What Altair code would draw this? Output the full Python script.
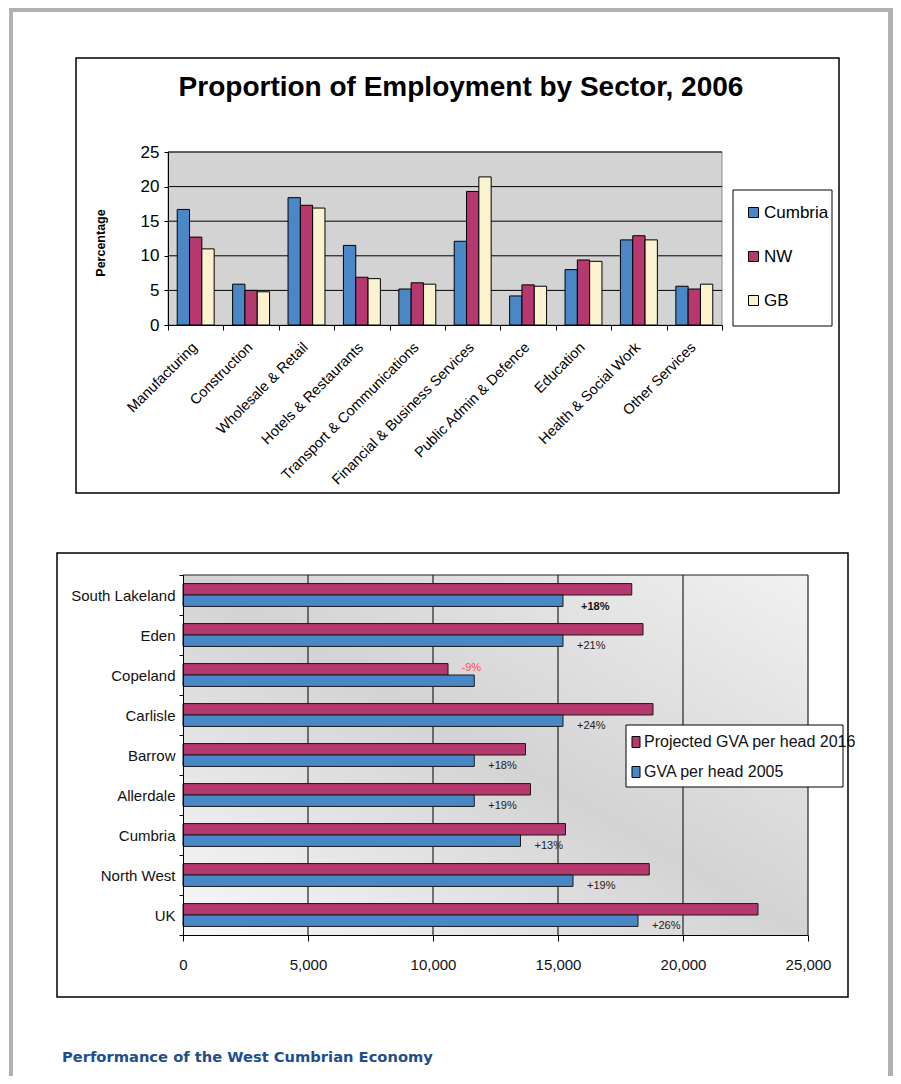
import altair as alt
import pandas as pd

# ---------------- data ----------------
sectors = ["Manufacturing", "Construction", "Wholesale & Retail", "Hotels & Restaurants",
           "Transport & Communications", "Financial & Business Services",
           "Public Admin & Defence", "Education", "Health & Social Work", "Other Services"]
series1 = ["Cumbria", "NW", "GB"]
cumbria = [16.7, 5.9, 18.4, 11.5, 5.2, 12.1, 4.2, 8.0, 12.3, 5.6]
nw = [12.7, 5.0, 17.3, 6.9, 6.1, 19.3, 5.8, 9.4, 12.9, 5.2]
gb = [11.0, 4.8, 16.9, 6.7, 5.9, 21.4, 5.6, 9.2, 12.3, 5.9]
y1_ticks = [0, 5, 10, 15, 20, 25]

regions = ["South Lakeland", "Eden", "Copeland", "Carlisle", "Barrow", "Allerdale",
           "Cumbria", "North West", "UK"]
series2 = ["Projected GVA per head 2016", "GVA per head 2005"]
gva_2016 = [17950, 18400, 10600, 18800, 13700, 13900, 15300, 18650, 23000]
gva_2005 = [15200, 15200, 11650, 15200, 11650, 11650, 13500, 15600, 18200]
change_labels = ["+18%", "+21%", "-9%", "+24%", "+18%", "+19%", "+13%", "+19%", "+26%"]
x2_ticks = [0, 5000, 10000, 15000, 20000, 25000]

title1 = "Proportion of Employment by Sector, 2006"
ytitle1 = "Percentage"
footer = "Performance of the West Cumbrian Economy"

# ---------------- tables ----------------
df1 = pd.DataFrame(
    [{"sector": s, "series": "Cumbria", "value": v} for s, v in zip(sectors, cumbria)]
    + [{"sector": s, "series": "NW", "value": v} for s, v in zip(sectors, nw)]
    + [{"sector": s, "series": "GB", "value": v} for s, v in zip(sectors, gb)]
)
df2 = pd.DataFrame(
    [{"region": r, "series": series2[0], "value": v} for r, v in zip(regions, gva_2016)]
    + [{"region": r, "series": series2[1], "value": v} for r, v in zip(regions, gva_2005)]
)
lab2 = pd.DataFrame({"region": regions, "v2005": gva_2005, "v2016": gva_2016,
                     "label": change_labels})

W, H = 885, 1068
FONT = "Liberation Sans"
BLUE, MAG, CREAM = "#4a87c7", "#b5386f", "#fbf3cf"
one = alt.Data(values=[{}])


def rect(x, x2, y, y2, **kw):
    return alt.Chart(one).mark_rect(**kw).encode(
        x=alt.value(x), x2=alt.value(x2), y=alt.value(y), y2=alt.value(y2))


def rule(x, x2, y, y2, **kw):
    return alt.Chart(one).mark_rule(**kw).encode(
        x=alt.value(x), x2=alt.value(x2), y=alt.value(y), y2=alt.value(y2))


def text(t, x, y, **kw):
    return alt.Chart(one).mark_text(text=t, **kw).encode(x=alt.value(x), y=alt.value(y))


# ---------------- page frame & boxes ----------------
FRAME = "#b1b1b3"
frame = [
    rect(1, 884, 0, 4, fill=FRAME),
    rect(1, 5, 0, H, fill=FRAME),
    rect(880, 885, 0, H, fill=FRAME),
]
box1 = rect(68, 831, 50, 485, fill="white", stroke="black", strokeWidth=1.5)
box2 = rect(49, 840, 545, 989, fill="white", stroke="black", strokeWidth=1.5)

# ---------------- chart 1 ----------------
X1 = (160, 714)
Y1 = (317, 144)
x1scale = alt.Scale(domain=sectors, range=list(X1), paddingInner=0, paddingOuter=0)
y1scale = alt.Scale(domain=[0, 25], range=list(Y1), nice=False, zero=True)
x1axis = alt.Axis(orient="bottom", offset=Y1[0] - H, tickBand="extent", tickSize=5,
                  labelAngle=-45, labelAlign="right", labelBaseline="top",
                  labelFontSize=14.5, labelPadding=10, labelOffset=-6, labelLimit=400,
                  labelOverlap=False,
                  domainColor="black", tickColor="black", labelColor="black",
                  grid=False, title=None, zindex=1)
y1axis = alt.Axis(orient="left", offset=-X1[0], values=y1_ticks, tickSize=4,
                  labelFontSize=17, labelPadding=5, labelOverlap=False,
                  domainColor="black", tickColor="black", labelColor="black",
                  grid=False, title=None, zindex=1)

bg1 = rect(X1[0], X1[1], Y1[1], Y1[0], fill="#d3d3d3", stroke="#8a8a8a", strokeWidth=1)
grid1 = alt.Chart(pd.DataFrame({"v": y1_ticks[1:]})).mark_rule(color="black", strokeWidth=1).encode(
    y=alt.Y("v:Q", scale=y1scale, axis=y1axis),
    x=alt.value(X1[0]), x2=alt.value(X1[1]))
bars1 = alt.Chart(df1).mark_bar(stroke="black", strokeWidth=1).encode(
    x=alt.X("sector:N", scale=x1scale, sort=sectors, axis=x1axis),
    xOffset=alt.XOffset("series:N", sort=series1,
                        scale=alt.Scale(domain=series1, paddingInner=0, paddingOuter=0.75)),
    y=alt.Y("value:Q", scale=y1scale, axis=y1axis),
    color=alt.Color("series:N", scale=alt.Scale(domain=series1, range=[BLUE, MAG, CREAM]),
                    legend=alt.Legend(orient="none", legendX=737, legendY=196, title=None,
                                      symbolType="square", symbolSize=100,
                                      symbolStrokeColor="black", symbolStrokeWidth=1,
                                      labelFontSize=17, labelOffset=2, rowPadding=26,
                                      padding=0, labelColor="black", zindex=1)),
)
chart1 = alt.layer(grid1, bars1)
legbox1 = rect(725, 824, 182, 318, fill="white", stroke="black", strokeWidth=1)
t1 = text(title1, 453, 80, fontSize=28, fontWeight="bold", align="center", baseline="middle",
          color="black")
yt1 = text(ytitle1, 93, 235, fontSize=12.5, fontWeight="bold", align="center",
           baseline="middle", angle=270, color="black")

# ---------------- chart 2 ----------------
X2 = (175, 800)
Y2 = (567, 927)
x2scale = alt.Scale(domain=[0, 25000], range=list(X2), nice=False, zero=True)
y2scale = alt.Scale(domain=regions, range=list(Y2), paddingInner=0, paddingOuter=0)
yoff2 = alt.Scale(domain=series2, paddingInner=0, paddingOuter=0.75)
x2axis = alt.Axis(orient="bottom", offset=Y2[1] - H, values=x2_ticks,
                  labelExpr="format(datum.value, ',')",
                  tickSize=6, labelFontSize=15, labelPadding=16, labelFlush=False,
                  labelOverlap=False, domainColor="black", tickColor="black",
                  labelColor="#111111", grid=False, title=None, zindex=1)
y2axis = alt.Axis(orient="left", offset=-X2[0], tickBand="extent", tickSize=4,
                  labelFontSize=15, labelPadding=4, labelLimit=300,
                  domainColor="black", tickColor="black", labelColor="#111111",
                  grid=False, title=None, zindex=1)

grad = alt.LinearGradient(
    gradient="linear", x1=0, y1=1, x2=1, y2=0,
    stops=[alt.GradientStop(offset=0, color="#f8f8f8"),
           alt.GradientStop(offset=0.5, color="#d3d3d3"),
           alt.GradientStop(offset=1, color="#f1f1f1")])
bg2 = rect(X2[0], X2[1], Y2[0], Y2[1], fill=grad)
top2 = rule(X2[0], X2[1], Y2[0], Y2[0], color="#222222", strokeWidth=1.2)
grid2 = alt.Chart(pd.DataFrame({"v": x2_ticks[1:]})).mark_rule(color="#222222", strokeWidth=1.2).encode(
    x=alt.X("v:Q", scale=x2scale, axis=x2axis),
    y=alt.value(Y2[0]), y2=alt.value(Y2[1]))
bars2 = alt.Chart(df2).mark_bar(stroke="#1a1a1a", strokeWidth=1).encode(
    y=alt.Y("region:N", scale=y2scale, sort=regions, axis=y2axis),
    yOffset=alt.YOffset("series:N", sort=series2, scale=yoff2),
    x=alt.X("value:Q", scale=x2scale, axis=x2axis),
    color=alt.Color("series:N", scale=alt.Scale(domain=series2, range=[MAG, BLUE]),
                    legend=alt.Legend(orient="none", legendX=620, legendY=726, title=None,
                                      symbolType="M-0.73,-1H0.73V1H-0.73Z", symbolSize=121,
                                      symbolStrokeColor="black", symbolStrokeWidth=1,
                                      labelFontSize=16, labelOffset=0, rowPadding=14,
                                      padding=0, labelColor="#111111", labelLimit=400,
                                      zindex=1)),
)
base_lab = alt.Chart(lab2)
enc_lab = dict(x=alt.X("v2005:Q", scale=x2scale, axis=x2axis),
               y=alt.Y("region:N", scale=y2scale, sort=regions, axis=y2axis),
               yOffset=alt.YOffset("series:N", sort=series2, scale=yoff2),
               text=alt.Text("label:N"))
pos_lab = base_lab.transform_filter(
    "indexof(datum.label, '-') != 0 && datum.region != 'South Lakeland'"
).transform_calculate(series="'GVA per head 2005'").mark_text(
    align="left", baseline="middle", dx=14, dy=5, fontSize=11, color="#222222"
).encode(**enc_lab)
bold_lab = base_lab.transform_filter(
    "datum.region == 'South Lakeland'"
).transform_calculate(series="'GVA per head 2005'").mark_text(
    align="left", baseline="middle", dx=18, dy=6, fontSize=11, fontWeight="bold", color="#111111"
).encode(**enc_lab)
neg_lab = base_lab.transform_filter(
    "indexof(datum.label, '-') == 0"
).transform_calculate(series="'Projected GVA per head 2016'").mark_text(
    align="center", baseline="middle", dx=-3, dy=-1, fontSize=11, color="#ff4d4d"
).encode(**enc_lab)
chart2 = alt.layer(grid2, bars2, pos_lab, bold_lab, neg_lab)
legbox2 = rect(618, 835, 717, 779, fill="white", stroke="black", strokeWidth=1)

foot = text(footer, 54, 1054, font="DejaVu Sans", fontSize=14.7, fontWeight="bold",
            color="#1f4e8c", align="left", baseline="alphabetic")

chart = alt.layer(
    *frame, box1, bg1, chart1, legbox1, t1, yt1,
    box2, bg2, top2, chart2, legbox2, foot
).resolve_scale(
    x="independent", y="independent", color="independent"
).properties(
    width=W, height=H, autosize=alt.AutoSizeParams(type="none"), padding=0
).configure(font=FONT).configure_view(strokeWidth=0)

chart.save("out.html", embed_options={"renderer": "svg", "actions": False})
